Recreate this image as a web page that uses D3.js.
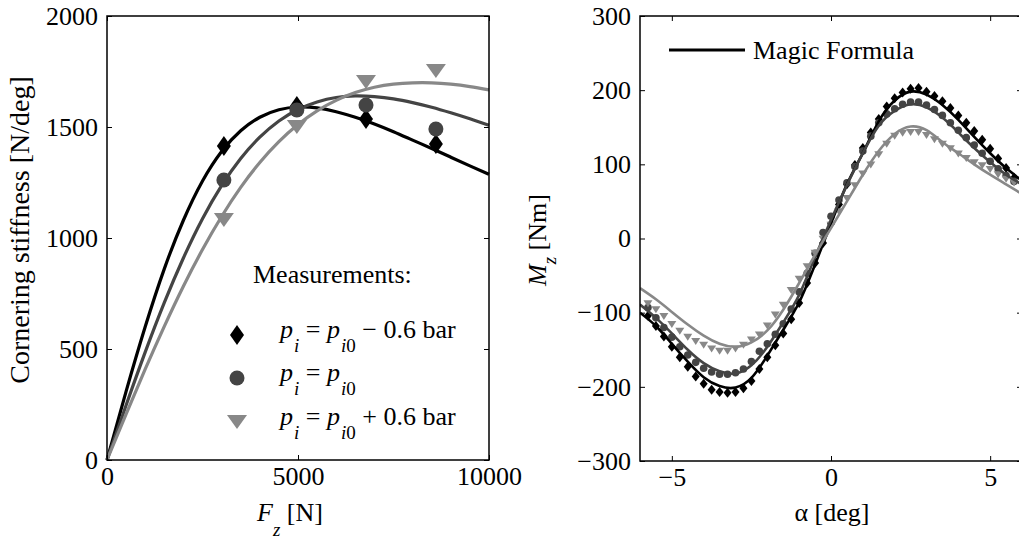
<!DOCTYPE html>
<html>
<head>
<meta charset="utf-8">
<script src="https://cdn.jsdelivr.net/npm/d3@7"></script>
<style>
  body { margin: 0; background: #fff; }
  svg { display: block; }
  text { font-family: "Liberation Serif", "Times New Roman", serif; fill: #000; }
</style>
</head>
<body>
<svg id="chart" width="1019" height="540"></svg>
<script>
// ---- left panel: cornering stiffness vs vertical load ----
var fzGrid = [0, 500, 1000, 1500, 2000, 2500, 3000, 3500, 4000, 4500, 5000,
  5500, 6000, 6500, 7000, 7500, 8000, 8500, 9000, 9500, 10000];
var fitLow = [0, 309, 600, 861, 1080, 1257, 1390, 1483, 1544, 1578, 1590,
  1586, 1569, 1544, 1514, 1479, 1441, 1403, 1364, 1325, 1287];
var fitNom = [0, 247, 486, 709, 910, 1087, 1236, 1358, 1454, 1527, 1579,
  1613, 1633, 1640, 1637, 1627, 1610, 1589, 1564, 1537, 1508];
var fitHigh = [0, 207, 409, 602, 783, 948, 1097, 1228, 1340, 1434, 1511,
  1573, 1620, 1655, 1679, 1693, 1699, 1699, 1693, 1682, 1667];

var fzMeas = [3060, 4970, 6780, 8610];
var measLow = [1414, 1595, 1536, 1423];
var measNom = [1261, 1577, 1599, 1491];
var measHigh = [1081, 1500, 1703, 1752];

var fzTicks = [0, 5000, 10000];
var stiffTicks = [0, 500, 1000, 1500, 2000];

// ---- right panel: aligning moment vs slip angle ----
var alphaFit = [-6, -5.5, -5, -4.5, -4, -3.5, -3, -2.5, -2, -1.5, -1, -0.5, 0,
  0.5, 1, 1.5, 2, 2.5, 3, 3.5, 4, 4.5, 5, 5.5, 6];
var mzFitLow = [-100, -118, -142, -166, -187, -199, -201, -188, -158, -123, -86, -35, 20,
  73, 115, 158, 186, 198, 194, 180, 160, 137, 115, 95, 78];
var mzFitNom = [-89, -107, -128, -150, -168, -179, -182, -171, -146, -113, -76, -25, 25,
  72, 115, 152, 172, 181, 177, 163, 143, 122, 103, 86, 73];
var mzFitHigh = [-67, -82, -99, -116, -131, -142, -146, -140, -124, -96, -60, -22, 14,
  50, 86, 118, 141, 151, 146, 130, 115, 100, 86, 73, 60];

var alphaMeas = [-5.75, -5.5, -5.25, -5, -4.75, -4.5, -4.25, -4, -3.75, -3.5, -3.25, -3,
  -2.75, -2.5, -2.25, -2, -1.75, -1.5, -1.25, -1, -0.75, -0.5, -0.25, 0,
  0.25, 0.5, 0.75, 1, 1.25, 1.5, 1.75, 2, 2.25, 2.5, 2.75, 3,
  3.25, 3.5, 3.75, 4, 4.25, 4.5, 4.75, 5, 5.25, 5.5, 5.75];
var mzMeasLow = [-104, -118, -132, -146, -160, -173, -186, -196, -204, -207, -208, -207,
  -202, -192, -176, -160, -144, -128, -109, -87, -60, -33, -6, 20,
  46, 73, 99, 122, 143, 161, 178, 189, 197, 202, 203, 198,
  192, 185, 176, 166, 156, 145, 133, 121, 108, 95, 82];
var mzMeasNom = [-93, -107, -120, -133, -146, -157, -167, -175, -180, -183, -183, -181,
  -176, -166, -152, -142, -129, -115, -95, -72, -47, -20, 8, 30,
  52, 75, 97, 118, 138, 156, 168, 175, 181, 184, 184, 180,
  174, 166, 156, 146, 136, 126, 115, 104, 94, 85, 77];
var mzMeasHigh = [-88, -96, -105, -116, -125, -133, -139, -144, -149, -152, -152, -149,
  -144, -137, -130, -118, -103, -90, -70, -55, -38, -20, -1, 18,
  36, 54, 71, 87, 99, 113, 127, 138, 142, 143, 143, 139,
  133, 127, 121, 114, 108, 102, 98, 93, 86, 80, 75];

var alphaTicks = [-5, 0, 5];
var mzTicks = [-300, -200, -100, 0, 100, 200, 300];

var black = "#000", dark = "#444", light = "#888";
var fontSize = 26;

function fmt(d) { return d < 0 ? "\u2212" + Math.abs(d) : String(d); }
function diamond(w, h) { return "M0," + (-h) + "L" + w + ",0L0," + h + "L" + (-w) + ",0Z"; }
function triDown(w, h) { return "M" + (-w) + "," + (-h) + "L" + w + "," + (-h) + "L0," + h + "Z"; }

var svg = d3.select("#chart").attr("font-family", "'Liberation Serif', 'Times New Roman', serif");

function frame(g, x, y, xTicks, yTicks, xFmt, yFmt) {
  var x0 = x.range()[0], x1 = x.range()[1], y0 = y.range()[0], y1 = y.range()[1];
  g.append("g").attr("transform", "translate(0," + y0 + ")")
    .call(d3.axisBottom(x).tickValues(xTicks).tickSizeInner(-5).tickSizeOuter(0).tickPadding(7).tickFormat(xFmt));
  g.append("g").attr("transform", "translate(0," + y1 + ")")
    .call(d3.axisTop(x).tickValues(xTicks).tickSizeInner(-5).tickSizeOuter(0).tickFormat(""));
  g.append("g").attr("transform", "translate(" + x0 + ",0)")
    .call(d3.axisLeft(y).tickValues(yTicks).tickSizeInner(-5).tickSizeOuter(0).tickPadding(9).tickFormat(yFmt));
  g.append("g").attr("transform", "translate(" + x1 + ",0)")
    .call(d3.axisRight(y).tickValues(yTicks).tickSizeInner(-5).tickSizeOuter(0).tickFormat(""));
  g.selectAll(".domain").remove();
  g.selectAll(".tick line").attr("stroke", "#000").attr("stroke-width", 1);
  g.selectAll(".tick text").attr("font-size", fontSize)
    .attr("font-family", "'Liberation Serif', 'Times New Roman', serif").attr("fill", "#000");
  g.append("rect").attr("x", x0).attr("y", y1).attr("width", x1 - x0).attr("height", y0 - y1)
    .attr("fill", "none").attr("stroke", "#000").attr("stroke-width", 1.5);
}

/* Left panel */
var xL = d3.scaleLinear().domain([0, 10000]).range([107, 489]);
var yL = d3.scaleLinear().domain([0, 2000]).range([460, 16]);
var gL = svg.append("g");

var lineL = function (vals) {
  return d3.line().x(function (d, i) { return xL(fzGrid[i]); })
    .y(function (d) { return yL(d); }).curve(d3.curveNatural)(vals);
};
[[fitLow, black], [fitNom, dark], [fitHigh, light]].forEach(function (s) {
  gL.append("path").attr("d", lineL(s[0])).attr("fill", "none")
    .attr("stroke", s[1]).attr("stroke-width", 3.2);
});

gL.selectAll(".mLow").data(measLow).enter().append("path")
  .attr("d", diamond(7, 10)).attr("fill", black)
  .attr("transform", function (d, i) { return "translate(" + xL(fzMeas[i]) + "," + yL(d) + ")"; });
gL.selectAll(".mNom").data(measNom).enter().append("circle")
  .attr("r", 7.5).attr("fill", dark)
  .attr("cx", function (d, i) { return xL(fzMeas[i]); }).attr("cy", function (d) { return yL(d); });
gL.selectAll(".mHigh").data(measHigh).enter().append("path")
  .attr("d", triDown(10, 7)).attr("fill", light)
  .attr("transform", function (d, i) { return "translate(" + xL(fzMeas[i]) + "," + yL(d) + ")"; });

frame(gL, xL, yL, fzTicks, stiffTicks, fmt, fmt);

// legend, left panel
gL.append("text").attr("x", 253).attr("y", 283).attr("font-size", fontSize).text("Measurements:");
var legRows = [
  { y: 338, tail: " \u2212 0.6 bar", mark: "d", col: black },
  { y: 381, tail: "", mark: "c", col: dark },
  { y: 425, tail: " + 0.6 bar", mark: "t", col: light }
];
legRows.forEach(function (r) {
  var my = r.y - 3;
  if (r.mark === "d") gL.append("path").attr("d", diamond(7, 10)).attr("fill", r.col).attr("transform", "translate(237," + my + ")");
  if (r.mark === "c") gL.append("circle").attr("r", 7.5).attr("fill", r.col).attr("cx", 237).attr("cy", my);
  if (r.mark === "t") gL.append("path").attr("d", triDown(10, 7)).attr("fill", r.col).attr("transform", "translate(237," + my + ")");
  var t = gL.append("text").attr("x", 280).attr("y", r.y).attr("font-size", fontSize);
  t.append("tspan").attr("font-style", "italic").text("p");
  t.append("tspan").attr("font-style", "italic").attr("font-size", 19).attr("dy", 14).attr("dx", 1).text("i");
  t.append("tspan").attr("dy", -14).text(" = ");
  t.append("tspan").attr("font-style", "italic").text("p");
  t.append("tspan").attr("font-size", 19).attr("dy", 14).attr("dx", 1)
    .html('<tspan font-style="italic">i</tspan>0');
  if (r.tail) t.append("tspan").attr("dy", -14).text(r.tail);
});

// axis labels, left panel
var xlabL = gL.append("text").attr("x", 290).attr("y", 521).attr("font-size", fontSize).attr("text-anchor", "middle");
xlabL.append("tspan").attr("font-style", "italic").text("F");
xlabL.append("tspan").attr("font-style", "italic").attr("font-size", 19).attr("dy", 15).text("z");
xlabL.append("tspan").attr("dy", -15).text(" [N]");
gL.append("text").attr("transform", "translate(29,230) rotate(-90)").attr("font-size", 28)
  .attr("text-anchor", "middle").text("Cornering stiffness [N/deg]");

/* Right panel */
var xR = d3.scaleLinear().domain([-6, 6]).range([640, 1022]);
var yR = d3.scaleLinear().domain([-300, 300]).range([461, 16]);
var gR = svg.append("g");

svg.append("clipPath").attr("id", "clipR").append("rect")
  .attr("x", 640).attr("y", 16).attr("width", 382).attr("height", 445);
var plotR = gR.append("g").attr("clip-path", "url(#clipR)");

plotR.selectAll(".rLow").data(mzMeasLow).enter().append("path")
  .attr("d", diamond(4, 5)).attr("fill", black)
  .attr("transform", function (d, i) { return "translate(" + xR(alphaMeas[i]) + "," + yR(d) + ")"; });
plotR.selectAll(".rNom").data(mzMeasNom).enter().append("circle")
  .attr("r", 3.8).attr("fill", dark)
  .attr("cx", function (d, i) { return xR(alphaMeas[i]); }).attr("cy", function (d) { return yR(d); });
plotR.selectAll(".rHigh").data(mzMeasHigh).enter().append("path")
  .attr("d", triDown(4.5, 3.5)).attr("fill", light)
  .attr("transform", function (d, i) { return "translate(" + xR(alphaMeas[i]) + "," + yR(d) + ")"; });

var lineR = function (vals) {
  return d3.line().x(function (d, i) { return xR(alphaFit[i]); })
    .y(function (d) { return yR(d); }).curve(d3.curveNatural)(vals);
};
[[mzFitLow, black], [mzFitNom, dark], [mzFitHigh, light]].forEach(function (s) {
  plotR.append("path").attr("d", lineR(s[0])).attr("fill", "none")
    .attr("stroke", s[1]).attr("stroke-width", 2.6);
});

frame(gR, xR, yR, alphaTicks, mzTicks, fmt, fmt);

// legend, right panel
gR.append("line").attr("x1", 669).attr("x2", 745).attr("y1", 50).attr("y2", 50)
  .attr("stroke", black).attr("stroke-width", 3.2);
gR.append("text").attr("x", 753).attr("y", 59).attr("font-size", fontSize).text("Magic Formula");

// axis labels, right panel
gR.append("text").attr("x", 832).attr("y", 521).attr("font-size", fontSize)
  .attr("text-anchor", "middle").text("\u03b1 [deg]");
var ylabR = gR.append("text").attr("transform", "translate(546,240) rotate(-90)")
  .attr("font-size", fontSize).attr("text-anchor", "middle");
ylabR.append("tspan").attr("font-style", "italic").text("M");
ylabR.append("tspan").attr("font-style", "italic").attr("font-size", 19).attr("dy", 10).text("z");
ylabR.append("tspan").attr("dy", -10).text(" [Nm]");
</script>
</body>
</html>
